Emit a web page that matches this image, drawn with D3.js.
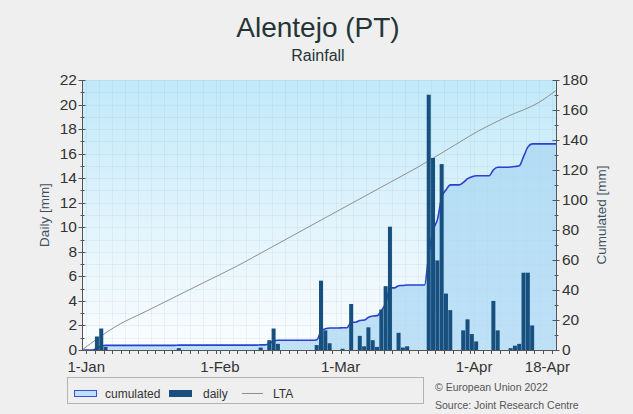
<!DOCTYPE html>
<html>
<head>
<meta charset="utf-8">
<script src="https://cdn.jsdelivr.net/npm/d3@7/dist/d3.min.js"></script>
<style>
  body { margin: 0; background: #efefef; }
  svg text { font-family: "Liberation Sans", Arial, sans-serif; }
</style>
</head>
<body>
<svg id="chart" width="633" height="414"></svg>
<script>

// daily rainfall (mm), only the days with rain
var rainDates = [
  '2022-01-03', '2022-01-04', '2022-01-05', '2022-01-22', '2022-02-10',
  '2022-02-12', '2022-02-13', '2022-02-14', '2022-02-23', '2022-02-24',
  '2022-02-25', '2022-02-26', '2022-03-01', '2022-03-03', '2022-03-05',
  '2022-03-06', '2022-03-07', '2022-03-08', '2022-03-09', '2022-03-10',
  '2022-03-11', '2022-03-12', '2022-03-14', '2022-03-15', '2022-03-16',
  '2022-03-21', '2022-03-22', '2022-03-23', '2022-03-24', '2022-03-25',
  '2022-03-26', '2022-03-29', '2022-03-30', '2022-03-31', '2022-04-01',
  '2022-04-05', '2022-04-06', '2022-04-09', '2022-04-10', '2022-04-11',
  '2022-04-12', '2022-04-13', '2022-04-14'
];
var rainMm = [
  1.1, 1.75, 0.25, 0.15, 0.2,
  0.8, 1.75, 0.5, 0.4, 5.65,
  1.6, 0.55, 0.1, 3.75, 1.15,
  0.3, 1.85, 0.8, 0.25, 3.3,
  5.2, 10.05, 1.4, 0.2, 0.3,
  20.8, 15.65, 7.3, 15.15, 4.6,
  3.25, 1.6, 2.5, 1.3, 0.7,
  4.0, 1.6, 0.15, 0.35, 0.5,
  6.3, 6.3, 2.0
];

// long term average, cumulated (mm)
var ltaDates = [
  '2021-12-31', '2022-01-08', '2022-01-15', '2022-01-22', '2022-01-29',
  '2022-02-05', '2022-02-12', '2022-02-19', '2022-02-26', '2022-03-05',
  '2022-03-12', '2022-03-19', '2022-03-26', '2022-04-02', '2022-04-09',
  '2022-04-16', '2022-04-20'
];
var ltaMm = [0, 16, 26, 36, 46, 56, 67, 78, 89, 100, 111, 122, 134, 146, 156, 165, 173];

var dailyTicks = [0, 2, 4, 6, 8, 10, 12, 14, 16, 18, 20, 22];
var cumTicks = [0, 20, 40, 60, 80, 100, 120, 140, 160, 180];
var dateTicks = ['2022-01-01', '2022-02-01', '2022-03-01', '2022-04-01', '2022-04-18'];

var settings = {
  left: 82, right: 556, top: 80, bottom: 350,
  bar: '#17507f', cum: '#2b3fd0', lta: '#8f8f8f', text: '#333'
};

var parse = d3.timeParse('%Y-%m-%d');
var fmt = d3.timeFormat('%-d-%b');

var svg = d3.select('#chart');

var scaleX = d3.scaleTime()
  .domain([ new Date(2021, 11, 31), new Date(2022, 3, 20) ])
  .range([ settings.left, settings.right ]);
var scaleY = d3.scaleLinear().domain([ 0, 22 ]).range([ settings.bottom, settings.top ]);
var scaleC = d3.scaleLinear().domain([ 0, 180 ]).range([ settings.bottom, settings.top ]);

// build a full day table from the rain arrays
var rainByDay = new Map( rainDates.map(function(d, i) { return [ d, rainMm[i] ]; }) );
var days = d3.timeDay.range( new Date(2022, 0, 1), new Date(2022, 3, 20) );
var fmtKey = d3.timeFormat('%Y-%m-%d');
var dayVals = days.map(function(d) { return rainByDay.get( fmtKey(d) ) || 0; });
var cumVals = Array.from( d3.cumsum( dayVals ) );
var cumData = [ { x: scaleX.range()[0] + 0.5, v: 0 } ].concat( days.map(function(d, i) {
  return { x: ( scaleX(d) + scaleX( d3.timeDay.offset(d, 1) ) ) / 2, v: cumVals[i] };
}));
cumData.push({ x: settings.right, v: cumVals[ cumVals.length - 1 ] });

// background gradient
var defs = svg.append('defs');
var grad = defs.append('linearGradient').attr('id', 'bg')
  .attr('x1', 0).attr('y1', 0).attr('x2', 0).attr('y2', 1);
grad.append('stop').attr('offset', '0%').attr('stop-color', '#c1e9f9');
grad.append('stop').attr('offset', '55%').attr('stop-color', '#e3f4fc');
grad.append('stop').attr('offset', '100%').attr('stop-color', '#fbfdfe');

svg.append('rect')
  .attr('x', settings.left).attr('y', settings.top)
  .attr('width', settings.right - settings.left)
  .attr('height', settings.bottom - settings.top)
  .attr('fill', 'url(#bg)');

// faint grid
var grid = svg.append('g').attr('stroke', 'rgba(120,165,195,0.11)').attr('stroke-width', 1);
grid.selectAll('line.h')
  .data( d3.range(1, 23) )
  .enter().append('line')
  .attr('x1', settings.left).attr('x2', settings.right)
  .attr('y1', function(d) { return Math.round( scaleY(d) ) + 0.5; })
  .attr('y2', function(d) { return Math.round( scaleY(d) ) + 0.5; });
grid.selectAll('line.v')
  .data( d3.timeDay.every(3).range( new Date(2022, 0, 1), new Date(2022, 3, 20) ) )
  .enter().append('line')
  .attr('y1', settings.top).attr('y2', settings.bottom)
  .attr('x1', function(d) { return Math.round( scaleX(d) ) + 0.5; })
  .attr('x2', function(d) { return Math.round( scaleX(d) ) + 0.5; });

// cumulated area + line
var area = d3.area()
  .x(function(d) { return d.x; })
  .y0( settings.bottom )
  .y1(function(d) { return scaleC( d.v ); })
  .curve( d3.curveMonotoneX );
var line = d3.line()
  .x(function(d) { return d.x; })
  .y(function(d) { return scaleC( d.v ); })
  .curve( d3.curveMonotoneX );

svg.append('path').datum( cumData )
  .attr('d', area)
  .attr('fill', '#a9d7f3')
  .attr('fill-opacity', 0.75);

svg.append('path').datum( cumData )
  .attr('d', line)
  .attr('fill', 'none')
  .attr('stroke', settings.cum)
  .attr('stroke-width', 1.6);

// LTA
svg.append('path')
  .datum( ltaDates.map(function(d, i) { return { date: parse(d), v: ltaMm[i] }; }) )
  .attr('d', d3.line()
    .x(function(d) { return scaleX( d.date ); })
    .y(function(d) { return scaleC( d.v ); })
    .curve( d3.curveMonotoneX ))
  .attr('fill', 'none')
  .attr('stroke', settings.lta)
  .attr('stroke-width', 1);

// daily bars
svg.append('g').selectAll('rect')
  .data( rainDates )
  .enter().append('rect')
  .attr('x', function(d) { return scaleX( parse(d) ); })
  .attr('width', function(d) { return scaleX( d3.timeDay.offset( parse(d), 1 ) ) - scaleX( parse(d) ) - 0.3; })
  .attr('y', function(d, i) { return scaleY( rainMm[i] ); })
  .attr('height', function(d, i) { return settings.bottom - scaleY( rainMm[i] ); })
  .attr('fill', settings.bar);

// left axis
var axisL = svg.append('g').attr('stroke', '#555');
axisL.append('line')
  .attr('x1', settings.left + 0.5).attr('x2', settings.left + 0.5)
  .attr('y1', settings.top).attr('y2', settings.bottom);
axisL.selectAll('line.t')
  .data( d3.range(0, 23) )
  .enter().append('line')
  .attr('x1', function(d) { return d % 2 ? settings.left - 1.5 : settings.left - 3.5; })
  .attr('x2', function(d) { return d % 2 ? settings.left + 2.5 : settings.left + 3.5; })
  .attr('y1', function(d) { return Math.round( scaleY(d) ) + 0.5; })
  .attr('y2', function(d) { return Math.round( scaleY(d) ) + 0.5; });
svg.append('g').selectAll('text')
  .data( dailyTicks )
  .enter().append('text')
  .attr('x', settings.left - 5)
  .attr('y', function(d) { return scaleY(d) + 5; })
  .attr('text-anchor', 'end')
  .attr('font-size', 15.5)
  .attr('fill', settings.text)
  .text(function(d) { return d; });

// right axis
var axisR = svg.append('g').attr('stroke', '#555');
axisR.append('line')
  .attr('x1', settings.right + 0.5).attr('x2', settings.right + 0.5)
  .attr('y1', settings.top).attr('y2', settings.bottom);
axisR.selectAll('line.t')
  .data( d3.range(0, 181, 10) )
  .enter().append('line')
  .attr('x1', function(d) { return d % 20 ? settings.right - 1.5 : settings.right - 3.5; })
  .attr('x2', function(d) { return d % 20 ? settings.right + 2.5 : settings.right + 3.5; })
  .attr('y1', function(d) { return Math.round( scaleC(d) ) + 0.5; })
  .attr('y2', function(d) { return Math.round( scaleC(d) ) + 0.5; });
svg.append('g').selectAll('text')
  .data( cumTicks )
  .enter().append('text')
  .attr('x', settings.right + 6)
  .attr('y', function(d) { return scaleC(d) + 5; })
  .attr('font-size', 15.5)
  .attr('fill', settings.text)
  .text(function(d) { return d; });

// bottom axis
var axisB = svg.append('g').attr('stroke', '#555');
axisB.append('line')
  .attr('x1', settings.left).attr('x2', settings.right)
  .attr('y1', settings.bottom + 0.5).attr('y2', settings.bottom + 0.5);
axisB.selectAll('line.t')
  .data( d3.timeDay.every(2).range( new Date(2022, 0, 1), new Date(2022, 3, 20) ) )
  .enter().append('line')
  .attr('x1', function(d) { return Math.round( scaleX(d) ) + 0.5; })
  .attr('x2', function(d) { return Math.round( scaleX(d) ) + 0.5; })
  .attr('y1', settings.bottom).attr('y2', settings.bottom + 4);
svg.append('g').selectAll('text')
  .data( dateTicks )
  .enter().append('text')
  .attr('x', function(d) { return scaleX( parse(d) ); })
  .attr('y', settings.bottom + 22)
  .attr('text-anchor', 'middle')
  .attr('font-size', 15)
  .attr('fill', settings.text)
  .text(function(d) { return fmt( parse(d) ); });

// axis titles
svg.append('text')
  .attr('transform', 'translate(49,' + ( ( settings.top + settings.bottom ) / 2 ) + ') rotate(-90)')
  .attr('text-anchor', 'middle')
  .attr('font-size', 13.5)
  .attr('fill', '#3e4f60')
  .text('Daily [mm]');
svg.append('text')
  .attr('transform', 'translate(606,' + ( ( settings.top + settings.bottom ) / 2 ) + ') rotate(-90)')
  .attr('text-anchor', 'middle')
  .attr('font-size', 13.5)
  .attr('fill', '#3e4f60')
  .text('Cumulated [mm]');

// titles
svg.append('text')
  .attr('x', 318).attr('y', 37)
  .attr('text-anchor', 'middle')
  .attr('font-size', 28)
  .attr('fill', '#253535')
  .text('Alentejo (PT)');
svg.append('text')
  .attr('x', 318).attr('y', 61)
  .attr('text-anchor', 'middle')
  .attr('font-size', 16)
  .attr('fill', '#253535')
  .text('Rainfall');

// legend
var legend = svg.append('g');
legend.append('rect')
  .attr('x', 67.5).attr('y', 377.5).attr('width', 356).attr('height', 26)
  .attr('fill', '#efefef').attr('stroke', '#b3b3b3');
legend.append('rect')
  .attr('x', 74.5).attr('y', 390.5).attr('width', 22).attr('height', 6)
  .attr('fill', '#bfe0fa').attr('stroke', '#3a4fd6');
legend.append('text').attr('x', 105).attr('y', 397.5)
  .attr('font-size', 12).attr('fill', settings.text).text('cumulated');
legend.append('rect')
  .attr('x', 169).attr('y', 390).attr('width', 23).attr('height', 7)
  .attr('fill', settings.bar);
legend.append('text').attr('x', 203).attr('y', 397.5)
  .attr('font-size', 12).attr('fill', settings.text).text('daily');
legend.append('line')
  .attr('x1', 242).attr('x2', 263).attr('y1', 393.5).attr('y2', 393.5)
  .attr('stroke', settings.lta);
legend.append('text').attr('x', 273).attr('y', 397.5)
  .attr('font-size', 12).attr('fill', settings.text).text('LTA');

svg.append('text').attr('x', 435).attr('y', 391)
  .attr('font-size', 10.5).attr('fill', '#555').text('\u00a9 European Union 2022');
svg.append('text').attr('x', 435).attr('y', 409)
  .attr('font-size', 10.5).attr('fill', '#555').text('Source: Joint Research Centre');

</script>
</body>
</html>
